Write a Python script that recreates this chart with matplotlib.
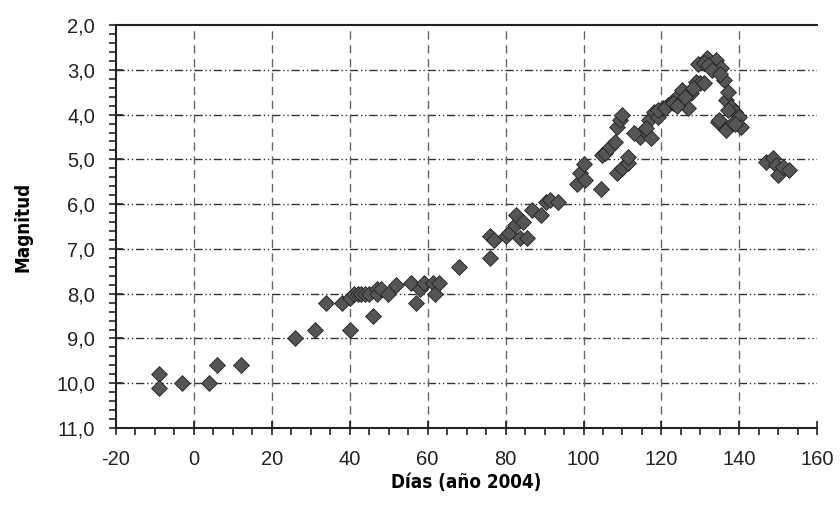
import matplotlib
matplotlib.use("Agg")
import matplotlib.pyplot as plt
from matplotlib.ticker import MultipleLocator, FuncFormatter

# dias (año 2004) y magnitud
dias = [-9, -9, -3, 4, 6, 12,
        26, 31, 34, 38, 40, 40, 41, 42, 43, 44, 45, 46, 47, 47, 48, 49.7,
        52, 55.6, 57, 58, 59, 61.3, 62, 63, 68,
        76, 77, 76, 80, 81, 82.4, 82.7, 83.7, 84.5, 85.5, 86.8, 89, 90.4, 91.4, 93.5,
        98.4, 99.2, 100, 100.4, 104.6, 104.8, 105.6, 106.9, 108.2, 108.7, 109.4, 110,
        108.5, 110, 111.3, 111.5,
        114.6, 115.4, 116.7, 117.2, 118, 119, 120.3, 121.6, 122.8, 124.1, 125.4, 126.7,
        127.5, 128.8, 129.3, 130, 130.8, 131.8, 133.9, 135.2, 136, 134.4,
        136.5, 137.8, 139, 139.8, 140.4, 134.7, 136.5, 138.3,
        113, 116, 119, 121, 123, 124, 126, 128, 131, 132, 133, 135, 137, 137, 139,
        146.8, 148.6, 149.4, 149.9, 151.2, 152.7]
magnitud = [9.8, 10.1, 10.0, 10.0, 9.6, 9.6,
            9.0, 8.8, 8.2, 8.2, 8.8, 8.1, 8.0, 8.0, 8.0, 8.0, 8.0, 8.5, 7.9, 8.0, 7.9, 8.0,
            7.8, 7.75, 8.2, 7.9, 7.75, 7.75, 8.0, 7.75, 7.4,
            6.7, 6.8, 7.2, 6.7, 6.65, 6.47, 6.24, 6.76, 6.4, 6.76, 6.13, 6.24, 5.95, 5.9, 5.95,
            5.55, 5.3, 5.1, 5.46, 5.65, 4.9, 4.86, 4.72, 4.61, 4.27, 4.12, 4.0,
            5.3, 5.2, 5.08, 4.95,
            4.5, 4.34, 4.12, 4.53, 3.94, 4.05, 3.86, 3.79, 3.72, 3.6, 3.45, 3.86,
            3.52, 3.27, 2.86, 3.3, 3.3, 2.74, 2.78, 2.96, 3.23, 4.17,
            3.67, 3.83, 3.94, 4.05, 4.27, 4.12, 4.34, 4.19,
            4.4, 4.3, 3.9, 3.85, 3.75, 3.8, 3.6, 3.4, 2.85, 2.9, 3.0, 3.1, 3.5, 3.9, 4.2,
            5.06, 4.97, 5.13, 5.35, 5.17, 5.24]

plt.rcParams['font.family'] = ['Liberation Sans', 'DejaVu Sans']
plt.rcParams['axes.unicode_minus'] = False

fig = plt.figure(figsize=(8.4, 5.12), dpi=100)
ax = fig.add_axes([0.138, 0.164, 0.835, 0.787])

ax.scatter(dias, magnitud, marker='D', s=65, facecolor='#555555',
           edgecolor='#222222', linewidth=0.6, zorder=3)

ax.set_xlim(-20, 160)
ax.set_ylim(11, 2)

ax.xaxis.set_major_locator(MultipleLocator(20))
ax.xaxis.set_minor_locator(MultipleLocator(5))
ax.yaxis.set_major_locator(MultipleLocator(1))
ax.yaxis.set_minor_locator(MultipleLocator(0.2))
ax.yaxis.set_major_formatter(FuncFormatter(lambda v, p: f"{v:.1f}".replace('.', ',')))

# rejilla
for yv in range(3, 11):
    ax.axhline(yv, color='#333333', lw=1, ls=(0, (6, 2, 1, 2, 1, 2)), zorder=1)
for xv in range(0, 160, 20):
    ax.axvline(xv, color='#666666', lw=1, ls=(0, (6, 4)), zorder=1)

ax.spines['right'].set_visible(False)
for s in ['left', 'bottom', 'top']:
    ax.spines[s].set_linewidth(1.5)
    ax.spines[s].set_color('#222222')

ax.tick_params(which='major', direction='inout', length=10, width=1.2, labelsize=14.5,
               colors='#222222')
ax.tick_params(which='minor', direction='out', length=5, width=1.2, colors='#222222')
ax.tick_params(axis='x', which='major', pad=11)
ax.tick_params(axis='y', which='major', pad=10)

lab = dict(fontsize=13.5, fontweight='bold', family='DejaVu Sans', fontstretch='condensed')
ax.set_xlabel('Días (año 2004)', labelpad=3, **lab)
ax.set_ylabel('Magnitud', labelpad=17, **lab)

plt.savefig('out.png', dpi=100)
